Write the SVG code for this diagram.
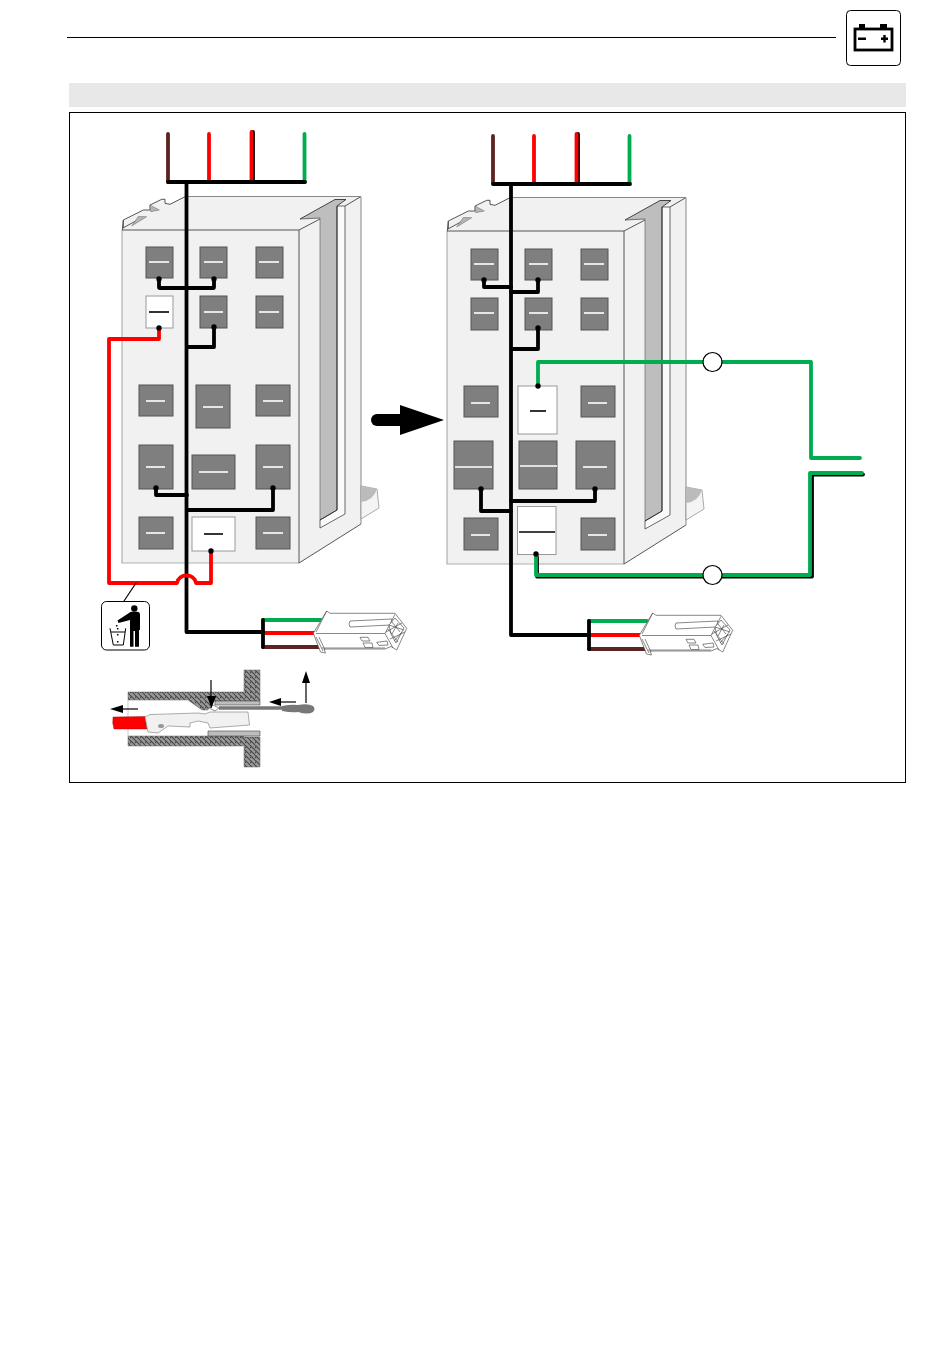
<svg xmlns="http://www.w3.org/2000/svg" width="950" height="1369" viewBox="0 0 950 1369">
<style>
.face{fill:#f1f1f1;stroke:none}
.thin{fill:none;stroke:#444;stroke-width:.9}
.slot{fill:#bebebe;stroke:none}
.strip{fill:#fafafa;stroke:#444;stroke-width:.8}
.g{fill:#7f7f7f;stroke:#555;stroke-width:1}
.gd{stroke:#fff;stroke-width:1.6;fill:none}
.w{fill:#fff;stroke:#999;stroke-width:1}
.wd{stroke:#000;stroke-width:1.6;fill:none}
.wire{fill:none;stroke-width:3.800;stroke-linejoin:round;stroke-linecap:round}
.k{stroke:#000}.r{stroke:#f00}.gr{stroke:#00ac50}.b{stroke:#5c2320}
.dot{fill:#000}
.ring{fill:#fff;stroke:#000;stroke-width:1.2}
.plug{fill:#fff;stroke:#555;stroke-width:.7;stroke-linejoin:round}
.wall{fill:url(#hatch);stroke:#666;stroke-width:.5}
.ar{stroke:#000;stroke-width:1.2;fill:none}
</style>
<defs>
<pattern id="hatch" width="5" height="5" patternUnits="userSpaceOnUse">
<rect width="5" height="5" fill="#999"/>
<path d="M-1 1L1 3M0 0L5 5M4 -1L6 1" stroke="#444" stroke-width="1.100"/>
</pattern>
<g id="cabinet">
<path class="face" d="M122 230L124 220L143 210H150V205L162 199H165V203L170 204L185 196.500H361V524L299 563H122Z"/>
<path class="slot" d="M300 219L335 199.500H346L337 206V510L320 520V218Z"/>
<path class="strip" d="M337 206H345V514L320 528V520L337 510Z"/>
<path d="M300 219L335 199.500H346L337 206" fill="none" stroke="#333" stroke-width=".9"/>
<path d="M300 219L320 218" fill="none" stroke="#444" stroke-width=".7"/>
<path d="M320 218V520" fill="none" stroke="#666" stroke-width=".7"/>
<path d="M337 206V510L320 520" fill="none" stroke="#222" stroke-width=".8"/>
<path class="thin" d="M299 230L320 219M345 206L361 196.500M299 563L361 524"/>
<path d="M122 230V563H299" fill="none" stroke="#b0b0b0" stroke-width="1.200"/>
<path d="M185 196.500H361V524" fill="none" stroke="#888" stroke-width="1"/>
<path class="thin" d="M122 230H299V563"/>
<path class="thin" d="M122.300 230L123.300 220L143.300 210H150V205L161.700 199.300H165V203.300L170 204.300L185 196.700M123.300 220V228M123 228L143 217"/>
<path d="M131.700 226L138.300 216.500L146.700 216.700Z" fill="#b5b5b5" stroke="#666" stroke-width=".5"/>
<path d="M150 205L159.300 210L150.700 211.700Z" fill="#b5b5b5" stroke="#666" stroke-width=".5"/>
<path d="M361 486L377 489L379 508L361 519Z" fill="#f4f4f4" stroke="#888" stroke-width=".7"/>
<path d="M361 486L377 489Q373 501 361 502Z" fill="#bbb"/>
</g>
<g id="conn">
<path class="plug" d="M313.300 633.300L326.700 611L330 613.300H395L406.700 628.300L396.700 650L391 646.500L385 649H324L325.500 653L320.500 652Z"/>
<path class="plug" d="M316 633.500H385L395 614.300M385 633.500L393 648M321.700 648H385M316 637L323 651M319 637L325 650M326.700 611L316 632"/>
<path class="plug" d="M350 621L392 619L390 625L350 627Q348 624 350 621Z"/>
<path class="plug" d="M360 637.300H368L370 641H362ZM363 643H372L373 647.500H365ZM376.700 642.300L387 641L388 645L379 645.500Z"/>
<path class="plug" d="M389 625L395 618L404 628L396 643L391 634ZM392 622L400 632M398 623L392 634M388 629L398 642M402 632L394 641M389 625L404 630M386 632L402 623M390 639L405 632"/>
</g>
</defs>
<g id="header">
<path d="M67 37.500H836" stroke="#000" stroke-width="1"/>
<rect x="69" y="83" width="837" height="24" fill="#e8e8e8"/>
<rect x="69.500" y="112.500" width="836" height="670" fill="#fff" stroke="#000" stroke-width="1"/>
</g>
<g id="battery-icon">
<rect x="846.500" y="10.500" width="54" height="55" rx="4" fill="#fff" stroke="#000" stroke-width="1"/>
<rect x="855" y="29" width="37" height="21" fill="#fff" stroke="#000" stroke-width="2.800"/>
<rect x="859" y="24" width="6" height="4" fill="#000"/>
<rect x="880" y="24" width="7" height="4" fill="#000"/>
<path d="M858 38.700H866M881 38.700H888M884.500 35V42.500" stroke="#000" stroke-width="2.400" fill="none"/>
</g>
<g id="cabinet-left"><use href="#cabinet"/></g>
<g id="cabinet-right"><use href="#cabinet" x="325" y="1"/></g>
<g id="modules-left">
<rect class="g" x="146" y="247" width="27" height="31"/><path class="gd" d="M149 262H169"/>
<rect class="g" x="200" y="247" width="27" height="31"/><path class="gd" d="M204 262H223"/>
<rect class="g" x="256" y="247" width="27" height="31"/><path class="gd" d="M259 262H279"/>
<rect class="w" x="146" y="296" width="27" height="32"/><path class="wd" d="M149 312H169"/>
<rect class="g" x="200" y="296" width="27" height="32"/><path class="gd" d="M204 312H223"/>
<rect class="g" x="256" y="296" width="27" height="32"/><path class="gd" d="M259 312H279"/>
<rect class="g" x="139" y="385" width="34" height="31"/><path class="gd" d="M146 401H165"/>
<rect class="g" x="196" y="385" width="34" height="43"/><path class="gd" d="M203 407H223"/>
<rect class="g" x="256" y="385" width="34" height="31"/><path class="gd" d="M263 401H283"/>
<rect class="g" x="139" y="445" width="34" height="44"/><path class="gd" d="M146 467H165"/>
<rect class="g" x="192" y="455" width="43" height="34"/><path class="gd" d="M199 472H228"/>
<rect class="g" x="256" y="445" width="34" height="44"/><path class="gd" d="M263 467H283"/>
<rect class="g" x="139" y="517" width="34" height="32"/><path class="gd" d="M146 533H165"/>
<rect class="w" x="192" y="517" width="43" height="34"/><path class="wd" d="M204 534H223"/>
<rect class="g" x="256" y="517" width="34" height="32"/><path class="gd" d="M263 533H283"/>
</g>
<g id="modules-right">
<rect class="g" x="471" y="249" width="27" height="31"/><path class="gd" d="M474 264H494"/>
<rect class="g" x="525" y="249" width="27" height="31"/><path class="gd" d="M529 264H548"/>
<rect class="g" x="581" y="249" width="27" height="31"/><path class="gd" d="M584 264H604"/>
<rect class="g" x="471" y="298" width="27" height="32"/><path class="gd" d="M474 313H494"/>
<rect class="g" x="525" y="298" width="27" height="32"/><path class="gd" d="M529 313H548"/>
<rect class="g" x="581" y="298" width="27" height="32"/><path class="gd" d="M584 313H604"/>
<rect class="g" x="464" y="386" width="34" height="31"/><path class="gd" d="M471 403H490"/>
<rect class="w" x="518" y="386" width="39" height="48"/><path class="wd" d="M530 411H546"/>
<rect class="g" x="581" y="386" width="34" height="31"/><path class="gd" d="M588 403H607"/>
<rect class="g" x="454" y="441" width="39" height="48"/><path class="gd" d="M455 467H492"/>
<rect class="g" x="519" y="441" width="38" height="48"/><path class="gd" d="M520 466H557"/>
<rect class="g" x="576" y="441" width="39" height="48"/><path class="gd" d="M583 467H607"/>
<rect class="g" x="464" y="518" width="34" height="32"/><path class="gd" d="M471 535H490"/>
<rect class="w" x="517.500" y="506.500" width="38.500" height="48"/><path class="wd" d="M519 532H555"/>
<rect class="g" x="581" y="518" width="34" height="32"/><path class="gd" d="M588 535H607"/>
</g>
<g id="connectors">
<path class="wire b" d="M168 134V182"/>
<path class="wire k" d="M253 132V182"/><path class="wire r" d="M251.500 132V182"/>
<path class="wire r" d="M209 134V182"/>
<path class="wire gr" d="M304.500 134V182"/>
<path class="wire k" d="M168 182H305M186.500 182V632H263"/>
<path class="wire k" d="M159 279V287Q159 288 160 288H213Q214 288 214 287V279M214 327V347H187M156 488V495H187M273 489V510H187"/>
<path class="wire r" d="M159 328V339H109V583H177C179 573 194 573 196 583H211V553"/>
<path class="ar" d="M136 583L124 601"/>
<path class="wire gr" d="M263 620H321"/><path class="wire r" d="M263 633H314"/><path class="wire b" d="M263 647H321"/>
<path class="wire k" d="M263 620V647"/>
<path class="wire b" d="M493 136V183"/>
<path class="wire k" d="M578 134V183"/><path class="wire r" d="M576.500 134V183"/>
<path class="wire r" d="M534 136V183"/>
<path class="wire gr" d="M629.500 136V183"/>
<path class="wire k" d="M493 184H630M511 184V635H589"/>
<path class="wire k" d="M484 280V287H511M538 280V292H511M538 328V349H512M481 489V511H511M595 489V501H511"/>
<path class="wire gr" d="M538 386V362H811V458H860"/>
<path class="wire k" d="M537 557V576.500H812V474.500H863"/>
<path class="wire gr" d="M536 554V575H810V473H862"/>
<path class="wire gr" d="M589 621H647"/><path class="wire r" d="M589 635H640"/><path class="wire b" d="M589 649H647"/>
<path class="wire k" d="M589 621V649"/>
<circle class="dot" cx="159" cy="279" r="2.700"/><circle class="dot" cx="214" cy="279" r="2.700"/>
<circle class="dot" cx="159" cy="328" r="2.700"/><circle class="dot" cx="214" cy="327" r="2.700"/>
<circle class="dot" cx="156" cy="488" r="2.700"/><circle class="dot" cx="273" cy="488" r="2.700"/>
<circle class="dot" cx="211" cy="551" r="2.700"/>
<circle class="dot" cx="484" cy="280" r="2.700"/><circle class="dot" cx="538" cy="280" r="2.700"/>
<circle class="dot" cx="538" cy="328" r="2.700"/><circle class="dot" cx="538" cy="386" r="2.700"/>
<circle class="dot" cx="481" cy="489" r="2.700"/><circle class="dot" cx="595" cy="489" r="2.700"/>
<circle class="dot" cx="536" cy="554" r="2.700"/>
<circle class="ring" cx="712.500" cy="362" r="9.500"/>
<circle class="ring" cx="712.500" cy="575" r="9.500"/>
</g>
<g id="plug-left"><use href="#conn"/></g>
<g id="plug-right"><use href="#conn" x="326" y="2"/></g>
<g id="big-arrow">
<path d="M377 420H402" stroke="#000" stroke-width="12" stroke-linecap="round" fill="none"/>
<path d="M400 405L444 420L400 435Z" fill="#000"/>
</g>
<g id="trash-icon">
<rect x="101.500" y="601.500" width="48" height="48.500" rx="5" fill="#fff" stroke="#000" stroke-width="1"/>
<circle cx="134.300" cy="608.500" r="3.200" fill="#000"/>
<path d="M117.500 620.500L129 613Q130 611.800 132 611.800H137Q140 611.800 140 615V630H139V646.700H135V631H133.500V646.700H130V620L118.500 623Z" fill="#000"/>
<path d="M110 628.300L113.300 645H123.300L125.700 628.300M111 632L125 632" fill="none" stroke="#000" stroke-width="1"/>
<path d="M116.700 625v1.400M117.700 628v1.400M117.700 634v1.400M117.700 641v1.400" stroke="#000" stroke-width="1.500"/>
</g>
<g id="detail">
<path class="wall" d="M128 692H244V670H260V701H215L211 703L208 710H202L188 700H128Z"/>
<path class="wall" d="M128 736H244V737H260V767H244V746H128Z"/>
<path d="M215 701H260V705H215ZM208 731H260V736H208Z" fill="#bdbdbd" stroke="#444" stroke-width=".6"/>
<path d="M128 700V736" stroke="#aaa" stroke-width=".6" fill="none"/>
<path d="M113 717L145 716.500L147 729H114Q112 723 113 717Z" fill="#f00" stroke="#800" stroke-width=".4"/>
<path d="M145 717L150 714.500L198 713L205 714L210 712L248 712L249.500 725L210 728L208 723L198 721L190 723L190 727L168 726L158 733L148 732Z" fill="#f1f1f1" stroke="#777" stroke-width=".6"/>
<ellipse cx="161" cy="726" rx="3" ry="2" fill="#999"/>
<path d="M209 708L213 705L219 708L215 711Z" fill="#fff" stroke="#444" stroke-width=".6"/>
<path d="M219 708H282" stroke="#777" stroke-width="3.500" fill="none"/>
<path d="M282 706Q292 704 298 705Q308 703 313 706Q316 709 313 712Q308 715 298 712Q292 713 282 711Z" fill="#777"/>
<path d="M211 680V708" class="ar"/><path d="M207 696H216L211.500 708Z" fill="#000"/>
<path d="M306 703V682" class="ar"/><path d="M302 683H310L306 671Z" fill="#000"/>
<path d="M296 702H278" class="ar"/><path d="M281 698V706L269 702Z" fill="#000"/>
<path d="M138 709H122" class="ar"/><path d="M123 705V713L110 709Z" fill="#000"/>
</g>
</svg>
